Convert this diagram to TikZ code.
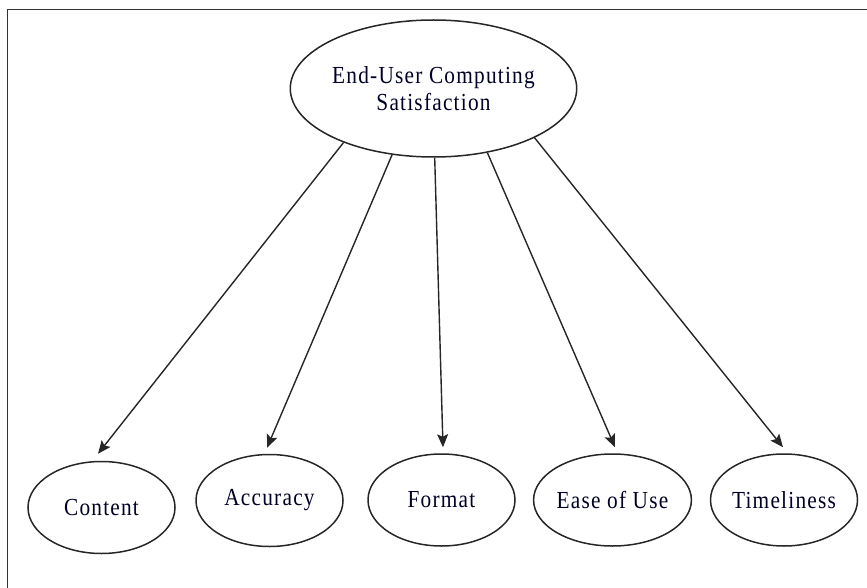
\documentclass[tikz,border=0pt]{standalone}
\usepackage{fontspec}
\setmainfont[LetterSpace=5,FakeStretch=0.87]{Liberation Serif}
\usetikzlibrary{shapes.geometric,arrows.meta,calc}
\begin{document}
\begin{tikzpicture}[x=1pt,y=-1pt,
  frame/.style={draw=black!80,line width=1.7pt},
  bub/.style={ellipse,draw=black!85,line width=1.5pt,inner sep=0pt,
    font=\fontsize{24.5}{27}\selectfont,text=black!85!blue},
  topbub/.style={bub,minimum width=269pt,minimum height=137pt,align=center},
  leaf/.style={bub,minimum width=147pt,minimum height=92pt},
  arr/.style={draw=black!85,line width=1.4pt,-{Stealth[length=13pt,width=11pt,inset=2.5pt]}}]
\useasboundingbox (0,0) rectangle (867,588);
\draw[frame] (7.5,588) -- (7.5,9.5) -- (867,9.5);
\node[topbub] (top) at (433.5,88.5) {End-User Computing\\Satisfaction};
\node[leaf] (c1) at (101.5,507.5) {Content};
\node[leaf] (c2) at (269.5,500.5) {Accuracy};
\node[leaf] (c3) at (441.5,500) {Format};
\node[leaf] (c4) at (612.5,500) {Ease of Use};
\node[leaf] (c5) at (784,500) {Timeliness};
\draw[arr] (top.211) -- ($(c1.north)+(-3.5,-7)$);
\draw[arr] (top.238) -- ($(c2.north)+(-2.5,-6)$);
\draw[arr] (top.271) -- ($(c3.north)+(1.5,-6)$);
\draw[arr] (top.310) -- ($(c4.north)+(2.5,-6)$);
\draw[arr] (top.334) -- ($(c5.north)+(-1,-6)$);
\end{tikzpicture}
\end{document}
